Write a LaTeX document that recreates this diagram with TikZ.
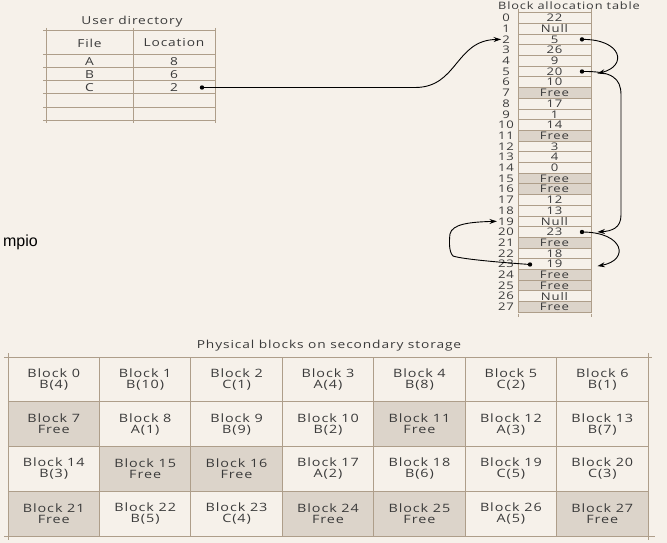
\documentclass[tikz,border=0pt]{standalone}
\usepackage{fontspec}
\setmainfont{Open Sans}[FakeStretch=1.25,LetterSpace=8]
\newfontfamily\mpiofont{Liberation Sans}
\usetikzlibrary{arrows.meta,calc}
\definecolor{bgc}{HTML}{F6F1EA}
\definecolor{shadec}{HTML}{DCD4CA}
\definecolor{gridc}{HTML}{AE9E8A}
\definecolor{txtc}{HTML}{3A3A3A}
\begin{document}
\begin{tikzpicture}[x=1pt,y=-1pt,
  gl/.style={draw=gridc, line width=1pt},
  title/.style={text=txtc, inner sep=0pt, font=\fontsize{11}{11}\selectfont},
  udtxt/.style={text=txtc, inner sep=0pt, font=\fontsize{11}{11}\selectfont},
  bcell/.style={draw=gridc, line width=0.9pt, minimum width=73pt, minimum height=10.7pt, inner sep=0pt, text=txtc, font=\fontsize{10.5}{10.5}\selectfont},
  bw/.style={fill=bgc},
  bf/.style={fill=shadec},
  bnum/.style={inner sep=1pt, text=txtc, font=\fontsize{10.5}{10.5}\selectfont},
  pcell/.style={draw=gridc, line width=1pt, minimum width=91.43pt, minimum height=44.75pt, inner sep=0pt, align=center, text=txtc, font=\fontsize{11.5}{11}\selectfont},
  pw/.style={fill=bgc},
  pf/.style={fill=shadec},
  dotn/.style={circle, fill=black, inner sep=0pt, minimum size=4.4pt},
  arr/.style={draw=black, line width=0.9pt, -{Stealth[length=7.5pt,width=5pt]}}]
\fill[bgc] (0,0) rectangle (667,543);
\useasboundingbox (0,0) rectangle (667,543);

% ---------- User directory ----------
\node[title] (udt) at (132,22) {User directory};
\foreach \yy in {31,55,68,81,94,107,120} \draw[gl] (43,\yy) -- (216,\yy);
\foreach \xx in {46,133,215} \draw[gl] (\xx,28) -- (\xx,123);
\node[udtxt] (hf) at (89.5,43) {File};
\node[udtxt] (hl) at (174,43) {Location};
\node[udtxt] (fa) at (89.5,61.5) {A};
\node[udtxt] (la) at (174,61.5) {8};
\node[udtxt] (fb) at (89.5,74.5) {B};
\node[udtxt] (lb) at (174,74.5) {6};
\node[udtxt] (fc) at (89.5,87.5) {C};
\node[udtxt] (lc) at (174,87.5) {2};
\node[dotn] (dC) at (202,87.5) {};

% ---------- Block allocation table ----------
\node[title, font=\fontsize{10.2}{10.2}\selectfont] (batt) at (569,6) {Block allocation table};
\draw[gl] (518,9) -- (518,12);
\draw[gl] (591,9) -- (591,12);
\draw[gl] (518,313.6) -- (518,317);
\draw[gl] (591,313.6) -- (591,317);
\foreach \v/\sty [count=\i from 0] in {22/bw,Null/bw,5/bw,26/bw,9/bw,20/bw,10/bw,Free/bf,17/bw,1/bw,14/bw,Free/bf,3/bw,4/bw,0/bw,Free/bf,Free/bf,12/bw,13/bw,Null/bw,23/bw,Free/bf,18/bw,19/bw,Free/bf,Free/bf,Null/bw,Free/bf}{
  \node[bcell,\sty] (b\i) at (554.5,18+\i*10.7) {\v};
  \node[bnum] (n\i) at (506,18+\i*10.7) {\i};
}
\node[dotn] (d2) at (582,39.4) {};
\node[dotn] (d5) at (582,71.5) {};
\node[dotn] (d20) at (582,232) {};
\node[dotn] (d23) at (530,264.5) {};

\draw[arr] (dC.center) -- (415,87.5) .. controls (458,87.5) and (455,40) .. (n2.west);
\draw[arr] (d2.center) .. controls (622,39) and (628,66) .. ($(b5.east)+(6,2)$);
\draw[arr] (d5.center) .. controls (612,71) and (621,78) .. (621,95) -- (621,215) .. controls (621,228) and (612,231) .. ($(b20.east)+(6,0)$);
\draw[arr] (d20.center) .. controls (624,232) and (630,260) .. ($(b23.east)+(6,2)$);
\draw[arr] (d23.center) .. controls (495,262) and (462,259) .. (453,256) .. controls (449,252) and (449,242) .. (450,234) .. controls (452,224) and (470,222) .. (n19.west);

% ---------- mpio ----------
\node[anchor=base east, inner sep=0pt, text=black, font=\mpiofont\fontsize{16}{16}\selectfont] (mp) at (38,246) {mpio};

% ---------- Physical blocks ----------
\node[title] (pbt) at (329,346) {Physical blocks on secondary storage};
\foreach \lab/\sty [count=\i from 0] in {B(4)/pw,B(10)/pw,C(1)/pw,A(4)/pw,B(8)/pw,C(2)/pw,B(1)/pw,Free/pf,A(1)/pw,B(9)/pw,B(2)/pw,Free/pf,A(3)/pw,B(7)/pw,B(3)/pw,Free/pf,Free/pf,A(2)/pw,B(6)/pw,C(5)/pw,C(3)/pw,Free/pf,B(5)/pw,C(4)/pw,Free/pf,Free/pf,A(5)/pw,Free/pf}{
  \pgfmathtruncatemacro{\cc}{mod(\i,7)}
  \pgfmathtruncatemacro{\rr}{int(\i/7)}
  \node[pcell,\sty] (p\i) at (8+91.43*\cc+45.715,357+44.75*\rr+22.375) {Block \i\\\lab};
}
\draw[gl] (4,357) -- (8,357);
\draw[gl] (648,357) -- (652,357);
\draw[gl] (4,536) -- (8,536);
\draw[gl] (648,536) -- (655,536);
\draw[gl] (8,353) -- (8,357);
\draw[gl] (648,353) -- (648,357);
\draw[gl] (8,536) -- (8,540);
\draw[gl] (648,536) -- (648,540);
\end{tikzpicture}
\end{document}
